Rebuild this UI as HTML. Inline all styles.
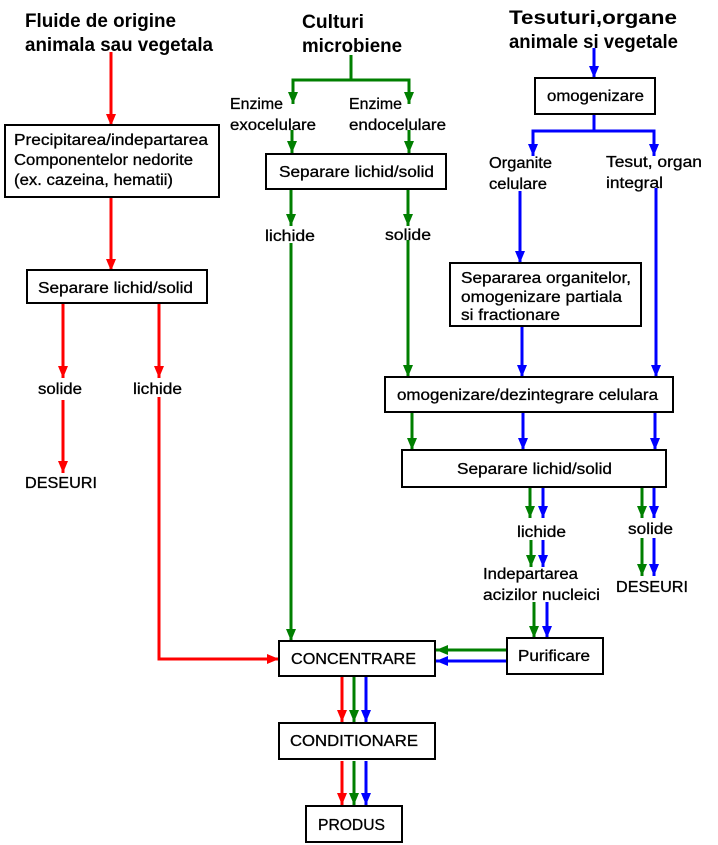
<!DOCTYPE html>
<html><head><meta charset="utf-8"><style>
html,body{margin:0;padding:0;background:#fff;}
svg{display:block;}
text{font-family:"Liberation Sans",Arial,sans-serif;font-size:15.5px;fill:#000;stroke:#000;stroke-width:0.3px;}
.h{font-size:19px;font-weight:bold;stroke-width:0;}
</style></head><body>
<svg width="718" height="845" viewBox="0 0 718 845" xmlns="http://www.w3.org/2000/svg">
<defs>
<marker id="r" viewBox="0 0 12 10" refX="12" refY="5" markerWidth="12" markerHeight="10" markerUnits="userSpaceOnUse" orient="auto"><path d="M0,0L12,5L0,10z" fill="#ff0000"/></marker>
<marker id="g" viewBox="0 0 12 10" refX="12" refY="5" markerWidth="12" markerHeight="10" markerUnits="userSpaceOnUse" orient="auto"><path d="M0,0L12,5L0,10z" fill="#007f00"/></marker>
<marker id="b" viewBox="0 0 12 10" refX="12" refY="5" markerWidth="12" markerHeight="10" markerUnits="userSpaceOnUse" orient="auto"><path d="M0,0L12,5L0,10z" fill="#0000ff"/></marker>
</defs>

<text class="h" x="25" y="27" textLength="151" lengthAdjust="spacingAndGlyphs">Fluide de origine</text>
<text class="h" x="25" y="51" textLength="188" lengthAdjust="spacingAndGlyphs">animala sau vegetala</text>
<text class="h" x="302" y="28" textLength="62" lengthAdjust="spacingAndGlyphs">Culturi</text>
<text class="h" x="302" y="52" textLength="100" lengthAdjust="spacingAndGlyphs">microbiene</text>
<text class="h" x="509" y="24" textLength="168" lengthAdjust="spacingAndGlyphs">Tesuturi,organe</text>
<text class="h" x="509" y="48" textLength="169" lengthAdjust="spacingAndGlyphs">animale si vegetale</text>

<g fill="none" stroke-width="3">
<g stroke="#ff0000">
<line x1="111" y1="52" x2="111" y2="126" marker-end="url(#r)"/>
<line x1="111" y1="197" x2="111" y2="271" marker-end="url(#r)"/>
<line x1="63" y1="302" x2="63" y2="378" marker-end="url(#r)"/>
<line x1="63" y1="400" x2="63" y2="473" marker-end="url(#r)"/>
<line x1="159" y1="302" x2="159" y2="378" marker-end="url(#r)"/>
<polyline points="159,397 159,659 279,659" marker-end="url(#r)"/>
<line x1="342" y1="676" x2="342" y2="722" marker-end="url(#r)"/>
<line x1="342" y1="761" x2="342" y2="805" marker-end="url(#r)"/>
</g>
<g stroke="#007f00">
<line x1="351" y1="55" x2="351" y2="80"/>
<polyline points="293,104 293,80 409,80 409,104"/>
<line x1="293" y1="90" x2="293" y2="104" marker-end="url(#g)"/>
<line x1="409" y1="90" x2="409" y2="104" marker-end="url(#g)"/>
<line x1="292" y1="130" x2="292" y2="153" marker-end="url(#g)"/>
<line x1="409" y1="130" x2="409" y2="153" marker-end="url(#g)"/>
<line x1="291" y1="189" x2="291" y2="226" marker-end="url(#g)"/>
<line x1="408" y1="189" x2="408" y2="226" marker-end="url(#g)"/>
<line x1="291" y1="243" x2="291" y2="641" marker-end="url(#g)"/>
<line x1="408" y1="240" x2="408" y2="377" marker-end="url(#g)"/>
<line x1="412" y1="412" x2="412" y2="450" marker-end="url(#g)"/>
<line x1="530" y1="487" x2="530" y2="518" marker-end="url(#g)"/>
<line x1="531" y1="540" x2="531" y2="567" marker-end="url(#g)"/>
<line x1="534" y1="602" x2="534" y2="638" marker-end="url(#g)"/>
<line x1="642" y1="487" x2="642" y2="518" marker-end="url(#g)"/>
<line x1="642" y1="538" x2="642" y2="576" marker-end="url(#g)"/>
<line x1="507" y1="650" x2="436" y2="650" marker-end="url(#g)"/>
<line x1="354" y1="676" x2="354" y2="722" marker-end="url(#g)"/>
<line x1="354" y1="761" x2="354" y2="805" marker-end="url(#g)"/>
</g>
<g stroke="#0000ff">
<line x1="594" y1="48" x2="594" y2="78" marker-end="url(#b)"/>
<line x1="594" y1="114" x2="594" y2="131"/>
<polyline points="533,155 533,131 654,131 654,155"/>
<line x1="533" y1="140" x2="533" y2="156" marker-end="url(#b)"/>
<line x1="654" y1="140" x2="654" y2="156" marker-end="url(#b)"/>
<line x1="520" y1="191" x2="520" y2="263" marker-end="url(#b)"/>
<line x1="656" y1="188" x2="656" y2="377" marker-end="url(#b)"/>
<line x1="522" y1="326" x2="522" y2="377" marker-end="url(#b)"/>
<line x1="523" y1="412" x2="523" y2="450" marker-end="url(#b)"/>
<line x1="655" y1="412" x2="655" y2="450" marker-end="url(#b)"/>
<line x1="543" y1="487" x2="543" y2="518" marker-end="url(#b)"/>
<line x1="543" y1="540" x2="543" y2="567" marker-end="url(#b)"/>
<line x1="547" y1="602" x2="547" y2="638" marker-end="url(#b)"/>
<line x1="654" y1="487" x2="654" y2="518" marker-end="url(#b)"/>
<line x1="654" y1="538" x2="654" y2="576" marker-end="url(#b)"/>
<line x1="507" y1="661" x2="436" y2="661" marker-end="url(#b)"/>
<line x1="366" y1="676" x2="366" y2="722" marker-end="url(#b)"/>
<line x1="366" y1="761" x2="366" y2="805" marker-end="url(#b)"/>
</g>
</g>

<g fill="#fff" stroke="#000" stroke-width="2">
<rect x="5" y="125" width="214" height="72"/>
<rect x="27" y="270" width="180" height="33"/>
<rect x="266" y="154" width="180" height="35"/>
<rect x="535" y="78" width="120" height="36"/>
<rect x="450" y="263" width="191" height="63"/>
<rect x="385" y="377" width="288" height="35"/>
<rect x="402" y="450" width="264" height="37"/>
<rect x="507" y="638" width="96" height="36"/>
<rect x="279" y="641" width="156" height="35"/>
<rect x="279" y="723" width="156" height="36"/>
<rect x="306" y="806" width="96" height="36"/>
</g>

<text x="14" y="145" textLength="194" lengthAdjust="spacingAndGlyphs">Precipitarea/indepartarea</text>
<text x="14" y="165" textLength="179" lengthAdjust="spacingAndGlyphs">Componentelor nedorite</text>
<text x="14" y="185" textLength="159" lengthAdjust="spacingAndGlyphs">(ex. cazeina, hematii)</text>
<text x="38" y="293" textLength="155" lengthAdjust="spacingAndGlyphs">Separare lichid/solid</text>
<text x="38" y="394" textLength="44" lengthAdjust="spacingAndGlyphs">solide</text>
<text x="133" y="394" textLength="49" lengthAdjust="spacingAndGlyphs">lichide</text>
<text x="25" y="488" textLength="72" lengthAdjust="spacingAndGlyphs">DESEURI</text>

<text x="230" y="109" textLength="53" lengthAdjust="spacingAndGlyphs">Enzime</text>
<text x="230" y="130" textLength="86" lengthAdjust="spacingAndGlyphs">exocelulare</text>
<text x="349" y="109" textLength="53" lengthAdjust="spacingAndGlyphs">Enzime</text>
<text x="349" y="130" textLength="97" lengthAdjust="spacingAndGlyphs">endocelulare</text>
<text x="279" y="177" textLength="155" lengthAdjust="spacingAndGlyphs">Separare lichid/solid</text>
<text x="265" y="241" textLength="50" lengthAdjust="spacingAndGlyphs">lichide</text>
<text x="385" y="240" textLength="46" lengthAdjust="spacingAndGlyphs">solide</text>

<text x="547" y="101" textLength="97" lengthAdjust="spacingAndGlyphs">omogenizare</text>
<text x="489" y="168" textLength="63" lengthAdjust="spacingAndGlyphs">Organite</text>
<text x="489" y="189" textLength="58" lengthAdjust="spacingAndGlyphs">celulare</text>
<text x="606" y="167" textLength="96" lengthAdjust="spacingAndGlyphs">Tesut, organ</text>
<text x="606" y="188" textLength="57" lengthAdjust="spacingAndGlyphs">integral</text>
<text x="461" y="283" textLength="170" lengthAdjust="spacingAndGlyphs">Separarea organitelor,</text>
<text x="461" y="302" textLength="161" lengthAdjust="spacingAndGlyphs">omogenizare partiala</text>
<text x="461" y="320" textLength="99" lengthAdjust="spacingAndGlyphs">si fractionare</text>
<text x="397" y="400" textLength="261" lengthAdjust="spacingAndGlyphs">omogenizare/dezintegrare celulara</text>
<text x="457" y="474" textLength="155" lengthAdjust="spacingAndGlyphs">Separare lichid/solid</text>
<text x="517" y="537" textLength="49" lengthAdjust="spacingAndGlyphs">lichide</text>
<text x="483" y="579" textLength="95" lengthAdjust="spacingAndGlyphs">Indepartarea</text>
<text x="483" y="600" textLength="117" lengthAdjust="spacingAndGlyphs">acizilor nucleici</text>
<text x="628" y="534" textLength="45" lengthAdjust="spacingAndGlyphs">solide</text>
<text x="616" y="592" textLength="72" lengthAdjust="spacingAndGlyphs">DESEURI</text>
<text x="518" y="661" textLength="72" lengthAdjust="spacingAndGlyphs">Purificare</text>
<text x="291" y="664" textLength="125" lengthAdjust="spacingAndGlyphs">CONCENTRARE</text>
<text x="290" y="746" textLength="128" lengthAdjust="spacingAndGlyphs">CONDITIONARE</text>
<text x="318" y="830" textLength="67" lengthAdjust="spacingAndGlyphs">PRODUS</text>
</svg>
</body></html>
